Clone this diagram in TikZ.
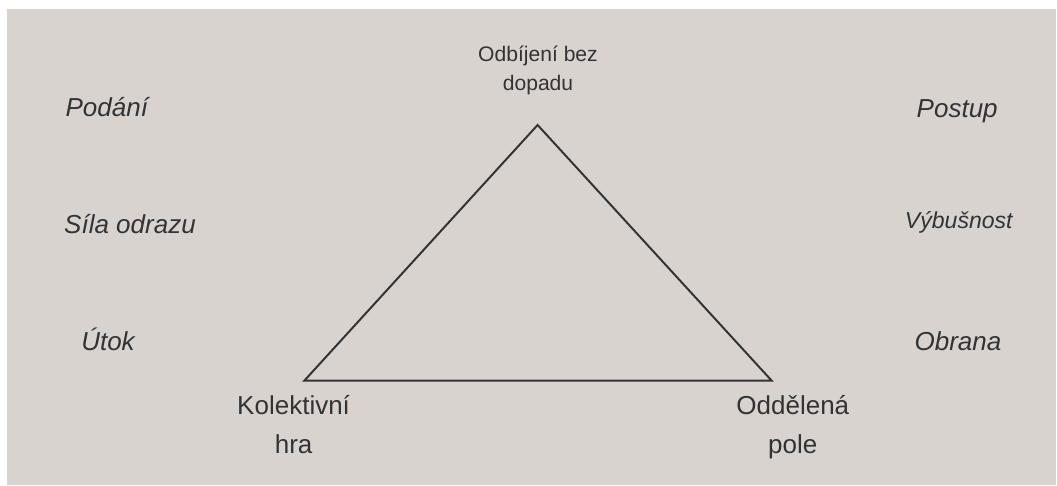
\documentclass[tikz,border=0pt]{standalone}
\usepackage{fontspec}
\setmainfont{Liberation Sans}
\definecolor{bgtaupe}{RGB}{217,211,208}
\definecolor{inkgray}{RGB}{51,51,51}

\begin{document}
\begin{tikzpicture}[
  side/.style={font=\fontsize{18.5}{22}\selectfont\itshape, text=inkgray, anchor=base, inner sep=0pt},
  corner/.style={font=\fontsize{18.5}{27.7}\selectfont, text=inkgray, align=center, anchor=base, inner sep=0pt}]
\useasboundingbox (0,0) rectangle (26.425,12.125);
\fill[bgtaupe] (0.175,0) rectangle (26.4,11.9);

% triangle
\coordinate (apex) at (13.44,9.0);
\coordinate (left) at (7.61,2.61);
\coordinate (right) at (19.29,2.61);
\draw[inkgray, line width=1.4pt] (apex) -- (left) -- (right) -- cycle;

\node[corner, font=\fontsize{15}{20.6}\selectfont] (top) at (13.45,9.86) {Odbíjení bez\\dopadu};
\node[corner] (kolektiv) at (7.34,0.78) {Kolektivní\\hra};
\node[corner] (pole) at (19.82,0.78) {Oddělená\\pole};

% left column
\node[side] (podani) at (2.67,9.21) {Podání};
\node[side] (sila) at (3.25,6.29) {Síla odrazu};
\node[side] (utok) at (2.7,3.35) {Útok};

% right column
\node[side] (postup) at (23.93,9.18) {Postup};
\node[side, font=\fontsize{16.4}{20}\selectfont\itshape] (vybus) at (23.97,6.42) {Výbušnost};
\node[side] (obrana) at (23.95,3.35) {Obrana};
\end{tikzpicture}
\end{document}
